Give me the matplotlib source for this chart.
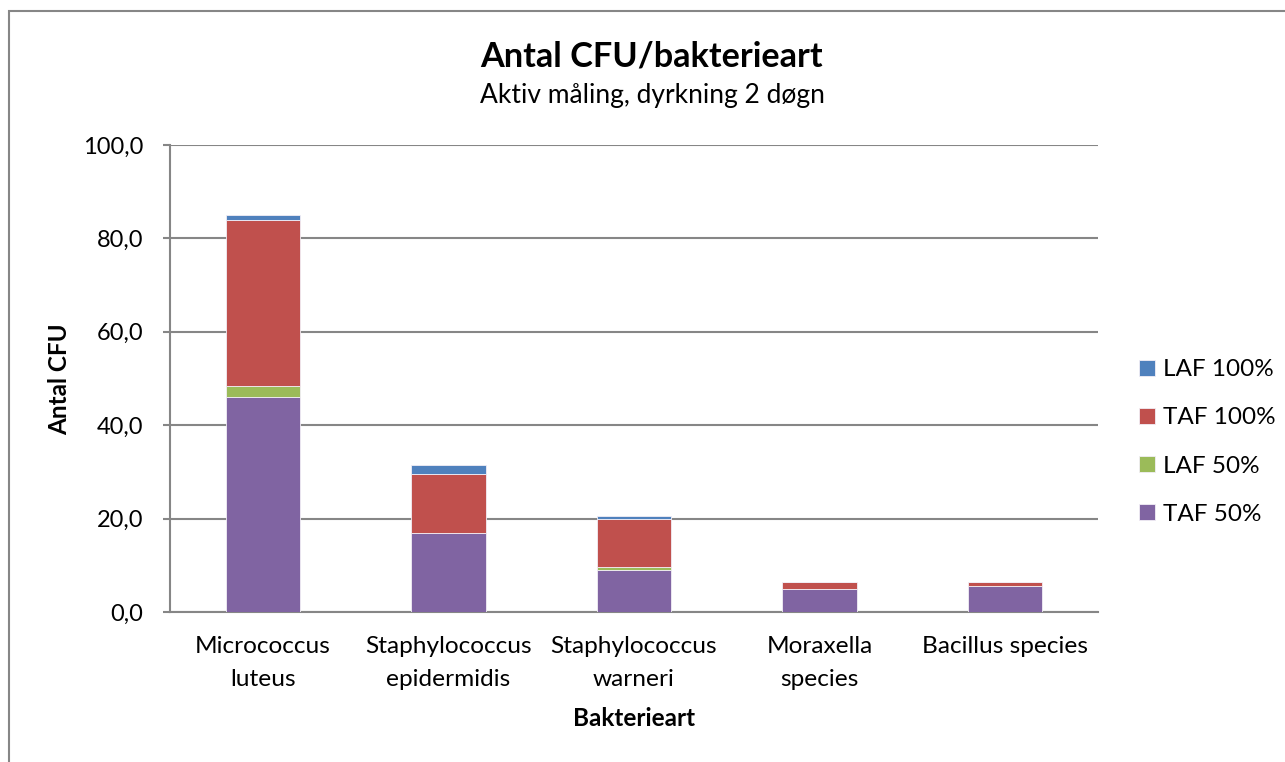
import matplotlib
matplotlib.use("Agg")
import matplotlib.pyplot as plt
from matplotlib.patches import Rectangle
import numpy as np

plt.rcParams['font.family'] = ['Lato', 'DejaVu Sans']

categories = ["Micrococcus\nluteus", "Staphylococcus\nepidermidis",
              "Staphylococcus\nwarneri", "Moraxella\nspecies", "Bacillus species"]
taf50 = [46.0, 17.0, 9.0, 5.0, 5.5]
laf50 = [2.5, 0.0, 0.6, 0.0, 0.0]
taf100 = [35.4, 12.5, 10.4, 1.5, 1.0]
laf100 = [1.1, 2.0, 0.5, 0.0, 0.0]
yticks = [0, 20, 40, 60, 80, 100]

W, H = 1285, 762
fig = plt.figure(figsize=(W / 100, H / 100), dpi=100)
ax = fig.add_axes([170 / W, 1 - 612 / H, (1098 - 170) / W, (612 - 145) / H])

# outer chart frame
fig.patches.append(Rectangle((9 / W, -0.1), 1.2, 1 - 11 / H + 0.1, transform=fig.transFigure,
                             fill=False, edgecolor='#868686', linewidth=1.5))

x = np.arange(len(categories))
series = [("TAF 50%", taf50, '#8064A2'), ("LAF 50%", laf50, '#9BBB59'),
          ("TAF 100%", taf100, '#C0504D'), ("LAF 100%", laf100, '#4F81BD')]
bottom = np.zeros(len(categories))
handles = []
for name, vals, col in series:
    b = ax.bar(x, vals, 0.4, bottom=bottom, color=col, label=name,
               edgecolor='#f2eef6', linewidth=0.6, zorder=3)
    handles.append(b)
    bottom += np.array(vals)

ax.set_xlim(-0.5, len(categories) - 0.5)
ax.set_ylim(0, 100)
ax.set_yticks(yticks)
ax.set_yticklabels([f"{v:.1f}".replace('.', ',') for v in yticks], fontsize=17)
ax.set_xticks(x)
ax.set_xticklabels(categories, fontsize=17.6, linespacing=1.72)
ax.tick_params(axis='x', length=0, pad=17)
ax.tick_params(axis='y', length=5, width=1.5, color='#868686', pad=14)
ax.grid(axis='y', color='#868686', linewidth=1.5, zorder=0)
for s in ['top', 'right']:
    ax.spines[s].set_visible(False)
for s in ['left', 'bottom']:
    ax.spines[s].set_color('#868686')
    ax.spines[s].set_linewidth(1.5)

fig.text(652 / W, 1 - 56 / H, "Antal CFU/bakterieart", fontsize=24.7, fontweight='bold',
         ha='center', va='center')
fig.text(652 / W, 1 - 96 / H, "Aktiv måling, dyrkning 2 døgn", fontsize=19,
         ha='center', va='center')
fig.text(60 / W, 1 - 379 / H, "Antal CFU", fontsize=17.5, fontweight='bold',
         rotation=90, ha='center', va='center')
fig.text(634 / W, 1 - 718 / H, "Bakterieart", fontsize=17.5, fontweight='bold',
         ha='center', va='center')

fig.legend(handles[::-1], [s[0] for s in series][::-1], loc='center left',
           bbox_to_anchor=(1139 / W, 1 - 442 / H), frameon=False, fontsize=17.5,
           handlelength=0.65, handleheight=0.65, handletextpad=0.35, labelspacing=1.12,
           borderpad=0, borderaxespad=0)

fig.savefig("out.png", dpi=100)
